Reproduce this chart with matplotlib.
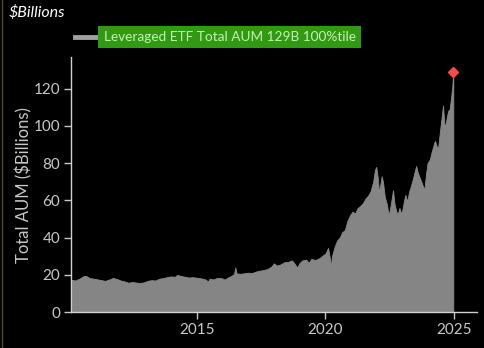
import matplotlib
matplotlib.use("Agg")
import matplotlib.pyplot as plt
from matplotlib.lines import Line2D

# decimal year, AUM in $B
years = [2010.15, 2010.3, 2010.45, 2010.6, 2010.7, 2010.85, 2011.0, 2011.15, 2011.3, 2011.45,
         2011.6, 2011.75, 2011.9, 2012.05, 2012.2, 2012.35, 2012.5, 2012.65, 2012.8, 2012.95,
         2013.1, 2013.25, 2013.4, 2013.55, 2013.7, 2013.85, 2014.0, 2014.15, 2014.25, 2014.4,
         2014.55, 2014.7, 2014.85, 2015.0, 2015.15, 2015.3, 2015.45, 2015.5, 2015.65, 2015.8,
         2015.95, 2016.1, 2016.2, 2016.35, 2016.45, 2016.5, 2016.55, 2016.7, 2016.85, 2017.0,
         2017.15, 2017.3, 2017.45, 2017.6, 2017.75, 2017.9, 2018.0, 2018.1, 2018.25, 2018.4,
         2018.55, 2018.7, 2018.8, 2018.9, 2019.0, 2019.1, 2019.25, 2019.35, 2019.45, 2019.6,
         2019.75, 2019.9, 2020.0, 2020.1, 2020.17, 2020.2, 2020.25, 2020.35, 2020.45, 2020.55,
         2020.65, 2020.75, 2020.85, 2020.95, 2021.05, 2021.15, 2021.25, 2021.35, 2021.45, 2021.55,
         2021.65, 2021.75, 2021.85, 2021.92, 2021.97, 2022.03, 2022.08, 2022.13, 2022.18, 2022.23,
         2022.3, 2022.38, 2022.45, 2022.5, 2022.57, 2022.62, 2022.68, 2022.75, 2022.8, 2022.87,
         2022.92, 2022.97, 2023.05, 2023.1, 2023.17, 2023.25, 2023.32, 2023.4, 2023.47, 2023.52,
         2023.58, 2023.65, 2023.72, 2023.8, 2023.84, 2023.9, 2023.96, 2024.05, 2024.12, 2024.2,
         2024.25, 2024.32, 2024.37, 2024.45, 2024.52, 2024.56, 2024.6, 2024.64, 2024.7, 2024.76,
         2024.82, 2024.88, 2024.92, 2024.96]
aum = [17.3, 17.0, 18.0, 19.3, 19.5, 18.3, 18.0, 17.6, 17.2, 16.8,
       17.5, 18.4, 17.8, 17.0, 16.5, 15.8, 16.2, 15.9, 15.7, 16.0,
       16.8, 17.2, 17.0, 18.0, 18.3, 18.8, 19.2, 19.0, 20.0, 19.4,
       19.0, 18.6, 18.8, 18.5, 18.2, 17.8, 16.5, 18.0, 17.6, 18.4,
       18.3, 17.5, 18.5, 19.5, 20.5, 24.0, 20.8, 20.6, 20.9, 21.2,
       21.0, 21.8, 22.3, 22.6, 23.2, 24.5, 26.2, 25.0, 25.6, 26.8,
       27.0, 27.8, 26.0, 24.0, 26.5, 27.8, 28.2, 26.5, 28.6, 28.0,
       28.9, 30.5, 31.5, 34.5, 29.0, 24.0, 30.0, 35.0, 38.5, 40.0,
       43.0, 44.0, 49.0, 52.0, 54.0, 53.0, 56.0, 57.0, 58.5, 61.0,
       62.5, 65.0, 70.0, 76.5, 78.0, 72.0, 64.0, 68.5, 73.0, 70.0,
       62.0, 58.0, 52.0, 55.0, 61.0, 65.5, 58.0, 54.0, 52.5, 56.0,
       53.5, 54.0, 60.0, 63.0, 59.5, 65.0, 68.0, 72.0, 76.0, 78.5,
       75.0, 72.5, 70.0, 67.0, 66.0, 74.0, 80.0, 82.0, 86.0, 90.0,
       92.0, 89.0, 88.0, 98.0, 106.0, 111.0, 103.0, 99.0, 104.0, 108.0,
       109.0, 116.0, 121.0, 129.0]
xticks = [2015, 2020, 2025]
yticks = [0, 20, 40, 60, 80, 100, 120]
label = "Leveraged ETF Total AUM 129B 100%tile"

plt.rcParams['font.family'] = ['Lato', 'DejaVu Sans']
fig = plt.figure(figsize=(4.84, 3.48), dpi=100, facecolor='black')
ax = fig.add_axes([0.146, 0.103, 0.839, 0.733], facecolor='black')

ax.fill_between(years, 0, aum, color='#858585', lw=0.6, edgecolor='#8a8a8a')
ax.plot([years[-1]], [aum[-1]], marker='D', ms=5, color='#ff4848', mec='#ff4848')

ax.set_xlim(2010.11, 2025.87)
ax.set_ylim(0, 137)
ax.set_xticks(xticks)
ax.set_yticks(yticks)
for s in ['top', 'right']:
    ax.spines[s].set_visible(False)
for s in ['left', 'bottom']:
    ax.spines[s].set_color('#d0d0d0')
    ax.spines[s].set_linewidth(1)
ax.tick_params(colors='#c8c8c8', labelsize=11, length=5, width=1, pad=2.5)
ax.set_ylabel("Total AUM ($Billions)", color='#c8c8c8', fontsize=12, labelpad=1)

# title-ish label and legend drawn by hand
fig.text(0.017, 0.965, "$Billions", color='white', fontsize=11.5, style='italic', va='center')
fig.add_artist(Line2D([0.155, 0.205], [0.894, 0.894], color='#a0a0a0', lw=3.5,
                      transform=fig.transFigure))
fig.text(0.214, 0.894, label, color='#c8f0b8', fontsize=9.8, va='center',
         bbox=dict(boxstyle='square,pad=0.38', fc='#2f9a12', ec='none'))
fig.add_artist(Line2D([0.004, 0.004], [0, 1], color='#5a4a1a', lw=1,
                      transform=fig.transFigure))

fig.savefig('out.png', dpi=100, facecolor='black')
